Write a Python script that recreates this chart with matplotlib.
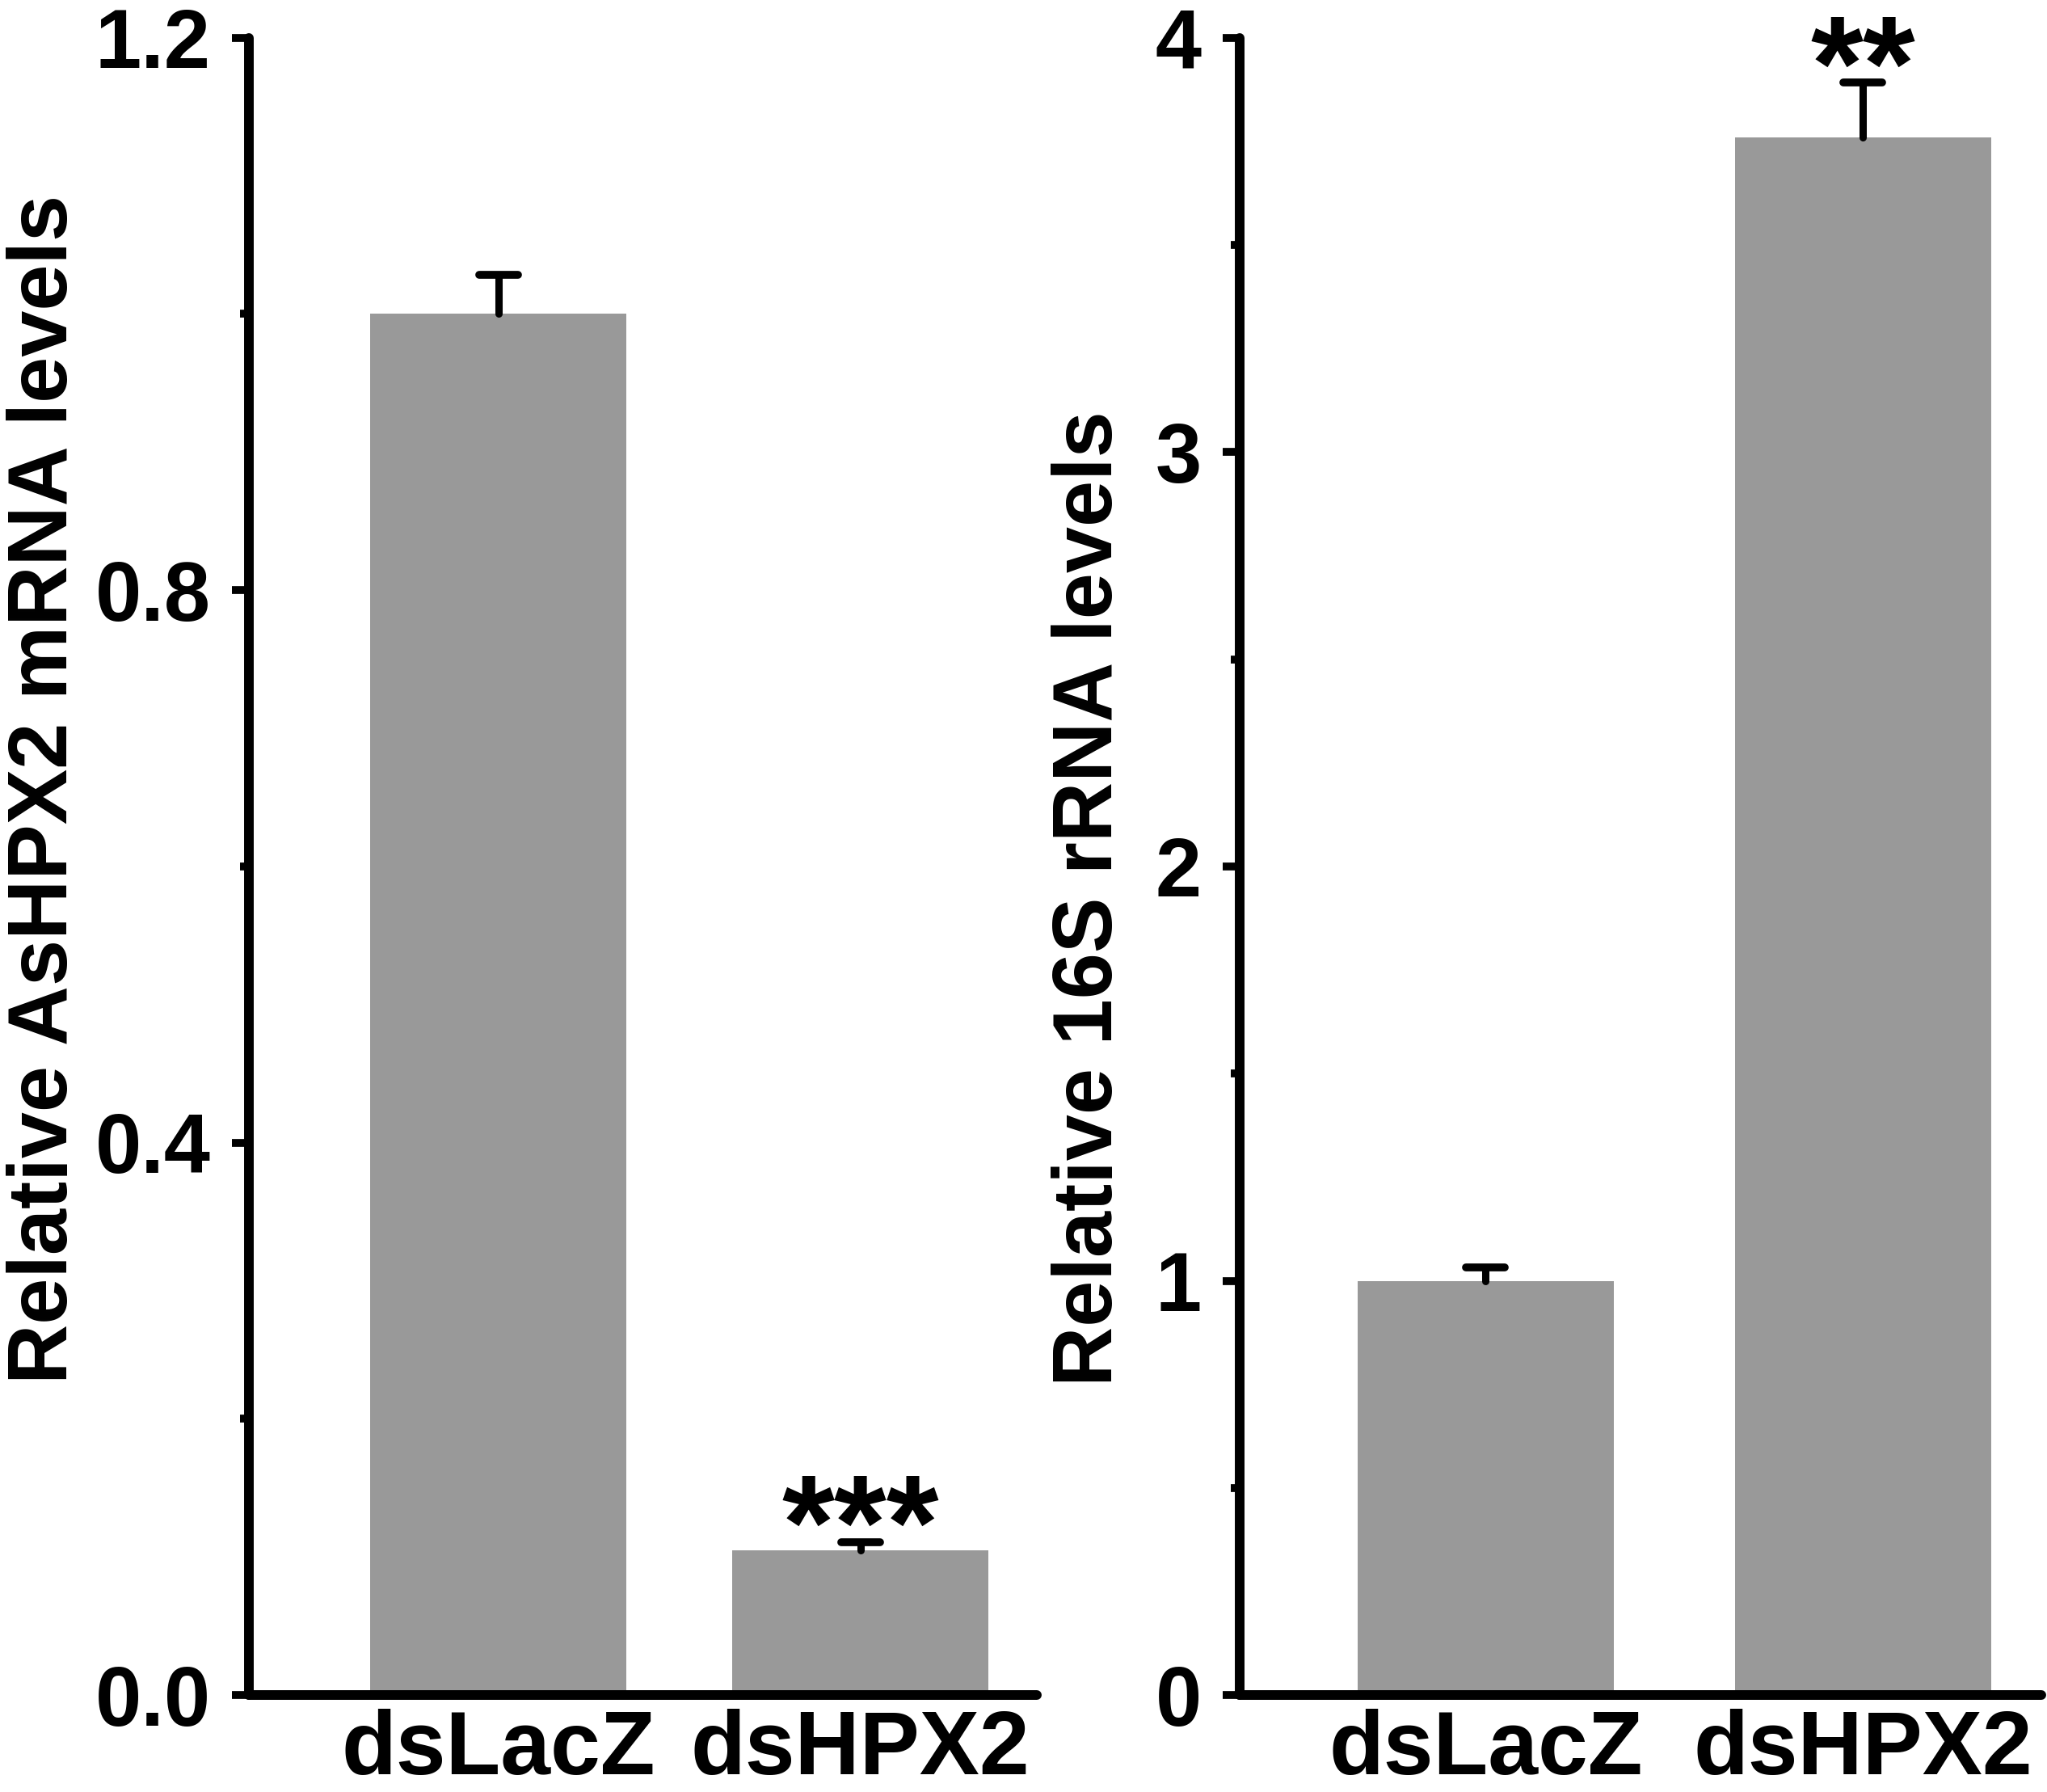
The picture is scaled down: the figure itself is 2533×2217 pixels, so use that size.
import matplotlib
matplotlib.use("Agg")
import matplotlib.pyplot as plt
from matplotlib.ticker import MultipleLocator, FormatStrFormatter
from matplotlib.markers import MarkerStyle

plt.rcParams['font.family'] = ['Liberation Sans', 'DejaVu Sans']
plt.rcParams['font.weight'] = 'bold'

groups = ["dsLacZ", "dsHPX2"]

# left panel: AsHPX2 mRNA
hpx_means = [1.000, 0.105]
hpx_errs = [0.028, 0.006]
hpx_stars = ["", "***"]

# right panel: 16S rRNA
rrna_means = [1.000, 3.760]
rrna_errs = [0.032, 0.131]
rrna_stars = ["", "**"]

bar_color = "#999999"

fig = plt.figure(figsize=(25.33, 22.17), dpi=100)
ax1 = fig.add_axes([0.1216, 0.054, 0.5065 - 0.1216, 0.979 - 0.054])
ax2 = fig.add_axes([0.6056, 0.054, 0.9972 - 0.6056, 0.979 - 0.054])


def draw_panel(ax, means, errs, stars, width, xlim, ymax, major, minor, fmt, ylabel, label_pos):
    x = list(range(len(groups)))
    ax.bar(x, means, width=width, color=bar_color, zorder=2)
    eb = ax.errorbar(x, means, yerr=[[0] * len(errs), errs], fmt="none",
                     ecolor="black", elinewidth=6.5, capsize=17, capthick=7, zorder=3)
    # only the upper cap is shown
    for cap in list(eb[1]):
        if list(cap.get_ydata()) == list(means):
            cap.remove()
        else:
            try:
                cap.set_marker(MarkerStyle("_", capstyle="round"))
            except Exception:
                pass
    for line in eb[2]:
        line.set_capstyle("round")
    for xi, m, e, s in zip(x, means, errs, stars):
        if s:
            ax.annotate(s, xy=(xi, m + e), xytext=(0, 63), textcoords="offset points",
                        ha="center", va="top", fontsize=120, fontweight="bold")
    ax.set_xlim(*xlim)
    ax.set_ylim(0, ymax)
    ax.set_xticks(x)
    ax.set_xticklabels(groups, fontsize=80, fontweight="bold")
    ax.yaxis.set_major_locator(MultipleLocator(major))
    ax.yaxis.set_minor_locator(MultipleLocator(minor))
    ax.yaxis.set_major_formatter(FormatStrFormatter(fmt))
    ax.tick_params(axis="x", length=0, pad=12)
    ax.tick_params(axis="y", which="major", length=15, width=7, pad=19, labelsize=74)
    ax.tick_params(axis="y", which="minor", length=8, width=7)
    for side in ["top", "right"]:
        ax.spines[side].set_visible(False)
    for side in ["left", "bottom"]:
        ax.spines[side].set_linewidth(8.6)
        ax.spines[side].set_capstyle("round")
    ax.set_ylabel(ylabel, fontsize=74, fontweight="bold", va="center")
    ax.yaxis.set_label_coords(*label_pos)


draw_panel(ax1, hpx_means, hpx_errs, hpx_stars, 0.708, (-0.689, 1.487), 1.2,
           0.4, 0.2, "%.1f", "Relative AsHPX2 mRNA levels", (-0.258, 0.5465))
draw_panel(ax2, rrna_means, rrna_errs, rrna_stars, 0.679, (-0.652, 1.472), 4,
           1, 0.5, "%d", "Relative 16S rRNA levels", (-0.1855, 0.4805))

fig.savefig("out.png", dpi=100)
